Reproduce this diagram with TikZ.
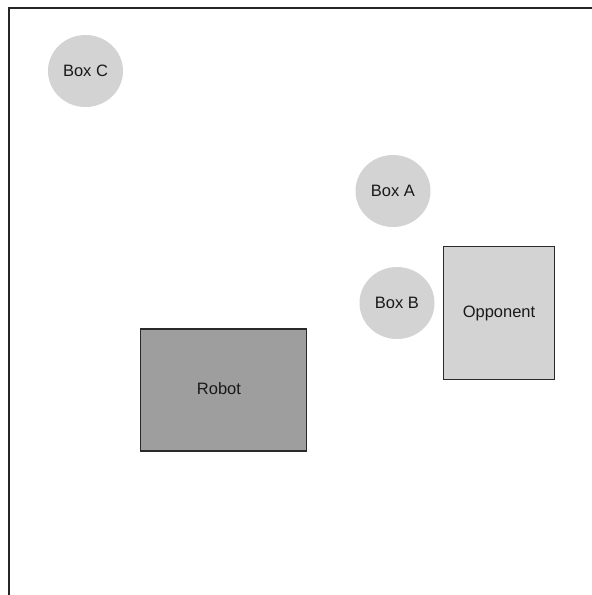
\documentclass[tikz,border=0pt]{standalone}
\usepackage{fontspec}
\setmainfont{Liberation Sans}
\usetikzlibrary{shapes.geometric}
\definecolor{boxgray}{HTML}{D3D3D3}
\definecolor{robotgray}{HTML}{9E9E9E}
\definecolor{edgegray}{HTML}{2A2A2A}
\tikzset{
  lbl/.style={font=\fontsize{16.5}{20}\selectfont, text=black!90},
  ball/.style={ellipse, fill=boxgray, draw=none, minimum width=75pt, minimum height=72pt, inner sep=0pt, lbl},
  block/.style={rectangle, draw=edgegray, line width=1.2pt, inner sep=0pt, lbl},
  wall/.style={draw=black!85, line width=1.2pt}
}
\begin{document}
\begin{tikzpicture}[x=1pt, y=-1pt]
  \useasboundingbox[fill=white] (0,0) rectangle (592,595);
  % arena walls (top and left)
  \coordinate (tl) at (9,8);
  \coordinate (tr) at (592,8);
  \coordinate (bl) at (9,595);
  \draw[wall] (tr) -- (tl) -- (bl);
  % objects
  \node[ball] (c) at (85.5,71) {Box C};
  \node[ball] (a) at (393,191) {Box A};
  \node[ball] (b) at (397,303) {Box B};
  \node[block, fill=boxgray, minimum width=111pt, minimum height=133pt] (opp) at (499,313) {Opponent};
  \node[block, fill=robotgray, minimum width=166pt, minimum height=122pt] (robot) at (223.7,390) {};
  \node[lbl] (robotlbl) at (219,389) {Robot};
\end{tikzpicture}
\end{document}
